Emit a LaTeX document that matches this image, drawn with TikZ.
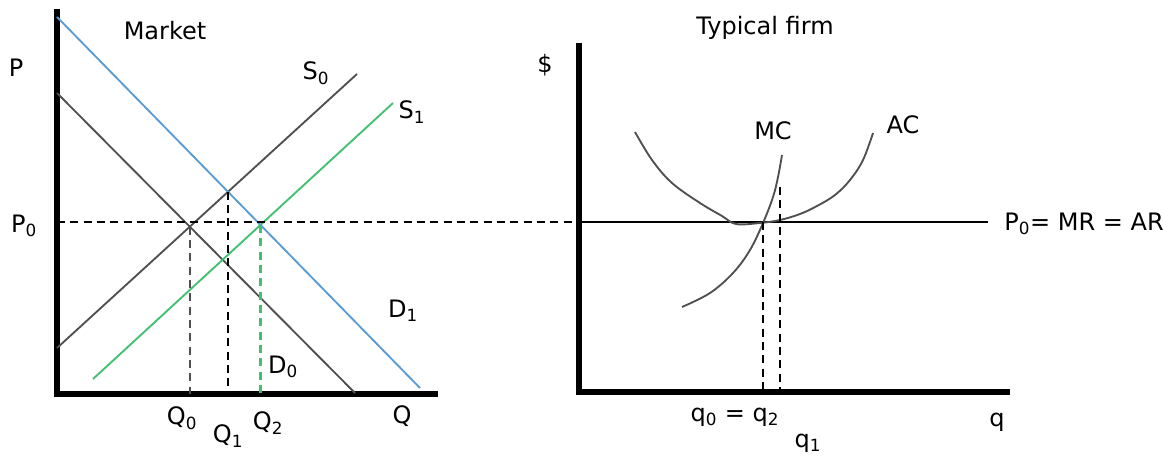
\documentclass[tikz,border=0pt]{standalone}
\usepackage{fontspec}
\setmainfont{DejaVu Sans}
\usetikzlibrary{intersections}
\definecolor{demandblue}{RGB}{91,155,213}
\definecolor{supplygreen}{RGB}{64,192,112}
\definecolor{curvegrey}{RGB}{80,80,80}

\begin{document}
\begin{tikzpicture}[x=0.75pt,y=-0.75pt,
  every node/.style={font=\fontsize{18}{20}\selectfont,inner sep=0pt},
  axis/.style={line width=4.2pt,line join=miter},
  curve/.style={line width=1.4pt},
  guide/.style={line width=1.2pt,dash pattern=on 6pt off 4pt}]
\useasboundingbox (0,0) rectangle (1163,460);

% market
\coordinate (mtop) at (57,9);
\coordinate (mo) at (57,394);
\coordinate (mend) at (438,394);
\coordinate (pm) at (57,222);
\draw[axis] (mtop) -- (mo) -- (mend);
\draw[curve,curvegrey,name path=D0] (57,93) -- (355,393);
\draw[curve,curvegrey,name path=S0] (57,348) -- (357,74);
\draw[curve,supplygreen,name path=S1] (93,379) -- (393,103);
\draw[curve,demandblue,name path=D1] (57,17) -- (420,388);
\path[name intersections={of=D0 and S0,by=E0}];
\path[name intersections={of=D1 and S0,by=E1}];
\path[name intersections={of=D1 and S1,by=E2}];
\draw[guide,curvegrey,line width=1.8pt] (E0) -- (E0 |- mo);
\draw[guide,line width=1.5pt] (E1) -- (E1 |- mo);
\draw[guide,supplygreen,line width=1.6pt] (E2) -- (E2 |- mo);

\node (market) at (165,31) {Market};
\node (plbl) at (16,68) {P};
\node (p0lbl) at (24,226) {P\textsubscript{0}};
\node (s0lbl) at (316,73) {S\textsubscript{0}};
\node (s1lbl) at (412,112) {S\textsubscript{1}};
\node (d1lbl) at (403,311) {D\textsubscript{1}};
\node (d0lbl) at (283,367) {D\textsubscript{0}};
\node (q0lbl) at (182,418) {Q\textsubscript{0}};
\node (q1lbl) at (228,436) {Q\textsubscript{1}};
\node (q2lbl) at (268,423) {Q\textsubscript{2}};
\node (qlbl) at (402,416) {Q};

% typical firm
\coordinate (ftop) at (579,43);
\coordinate (fo) at (579,392);
\coordinate (fend) at (1010,392);
\coordinate (pf) at (579,222);
\coordinate (pe) at (988,222);
\coordinate (mcq) at (763,222);
\coordinate (acq) at (780,187);
\draw[axis] (ftop) -- (fo) -- (fend);
\draw[guide] (pm) -- (pf);
\draw[curve,line width=1.2pt] (pf) -- (pe);
\draw[curve,curvegrey] plot[smooth,tension=0.6] coordinates {(682,307) (710,293) (733,273) (750,250) (763,223) (773,197) (778,177) (782,155)};
\draw[curve,curvegrey] plot[smooth,tension=0.6] coordinates {(635,132) (652,160) (672,183) (700,203) (722,216) (736,224) (760,223) (780,220) (800,214) (817,206) (835,195) (850,180) (863,160) (873,133)};
\draw[guide,line width=1pt] (mcq) -- (mcq |- fo);
\draw[guide,line width=1pt] (acq) -- (acq |- fo);

\node (firm) at (765,28) {Typical firm};
\node (dollar) at (545,65) {\$};
\node (mclbl) at (773,131) {MC};
\node (aclbl) at (903,125) {AC};
\node[anchor=west] (prlbl) at (1004,224) {P\textsubscript{0}= MR = AR};
\node (qqlbl) at (735,417) {q\textsubscript{0} = q\textsubscript{2}};
\node (q1f) at (808,443) {q\textsubscript{1}};
\node (qf) at (997,422) {q};
\end{tikzpicture}
\end{document}
